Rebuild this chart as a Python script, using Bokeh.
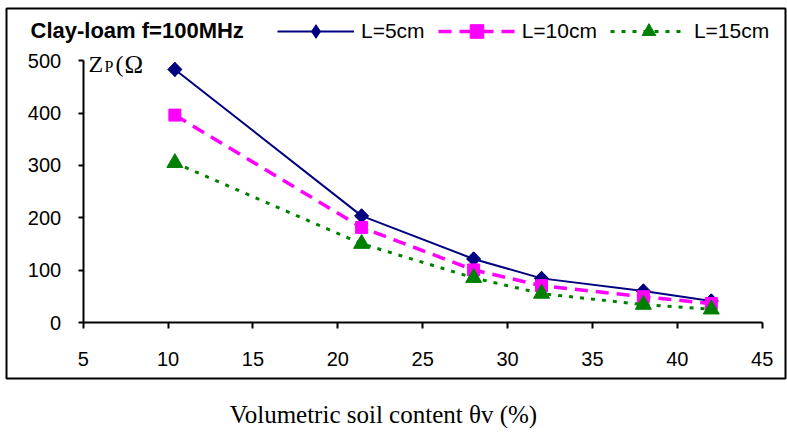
import math
from bokeh.plotting import figure
from bokeh.models import (Range1d, FixedTicker, Legend, LegendItem, Label, BoxAnnotation)
from bokeh.embed import file_html
from bokeh.resources import INLINE

# ---- data ----
theta = [10.4, 21.4, 28.0, 32.0, 38.0, 42.0]
z_l5 = [483, 204, 122, 85, 61, 42]
z_l10 = [396, 182, 101, 71, 50, 37]
z_l15 = [305, 151, 86, 56, 35, 26]
series_names = ["L=5cm", "L=10cm", "L=15cm"]
x_ticks = [5, 10, 15, 20, 25, 30, 35, 40, 45]
y_ticks = [0, 100, 200, 300, 400, 500]
title_text = "Clay-loam f=100MHz"
x_label_text = "Volumetric soil content \u03b8v (%)"

SANS = "Liberation Sans"
SERIF = "Liberation Serif"

# The frame covers the whole canvas; the axes are placed inside it.
p = figure(width=787, height=432, output_backend="svg", toolbar_location=None,
           x_range=Range1d(0.128, 46.49), y_range=Range1d(-208.6, 614.3),
           min_border_left=0, min_border_right=0, min_border_top=0, min_border_bottom=0)
p.outline_line_color = None
p.xgrid.visible = False
p.ygrid.visible = False
p.background_fill_color = "white"
p.border_fill_color = "white"

p.xaxis.ticker = FixedTicker(ticks=x_ticks)
p.yaxis.ticker = FixedTicker(ticks=y_ticks)
p.xaxis.fixed_location = 0
p.yaxis.fixed_location = 5
p.xaxis.bounds = (5, 45)
p.yaxis.bounds = (0, 500)
for ax in (p.xaxis[0], p.yaxis[0]):
    ax.axis_line_width = 2
    ax.axis_line_color = "black"
    ax.major_tick_line_width = 2
    ax.major_tick_line_color = "black"
    ax.major_tick_in = 0
    ax.minor_tick_line_color = None
    ax.major_label_text_font = SANS
    ax.major_label_text_font_size = "20px"
    ax.major_label_text_color = "black"
p.xaxis[0].major_tick_out = 6
p.xaxis[0].major_label_standoff = 23
p.yaxis[0].major_tick_out = 5
p.yaxis[0].major_label_standoff = 17

# outer box of the chart
p.add_layout(BoxAnnotation(left=6, right=785, bottom=54, top=424,
                           left_units="screen", right_units="screen",
                           bottom_units="screen", top_units="screen",
                           fill_alpha=0, line_color="black", line_alpha=1.0,
                           line_width=2))

l1 = p.line(theta, z_l5, line_color="#000080", line_width=2)
# diamond key marker (drawn under the rotated square, used for the legend)
s1_key = p.scatter(theta, z_l5, marker="diamond", size=14,
                   fill_color="#000080", line_color="#000080")
s1 = p.scatter(theta, z_l5, marker="square", angle=math.pi / 4, size=10,
               fill_color="#000080", line_color="#000080")
l2 = p.line(theta, z_l10, line_color="#FF00FF", line_width=3.5, line_dash="13 8")
s2 = p.scatter(theta, z_l10, marker="square", size=12,
               fill_color="#FF00FF", line_color="#FF00FF")
l3 = p.line(theta, z_l15, line_color="#008000", line_width=3, line_dash="4 7")
s3 = p.scatter(theta, z_l15, marker="triangle", size=16,
               fill_color="#008000", line_color="#008000")

legend = Legend(items=[LegendItem(label=series_names[0], renderers=[l1, s1_key]),
                       LegendItem(label=series_names[1], renderers=[l2, s2]),
                       LegendItem(label=series_names[2], renderers=[l3, s3])],
                orientation="horizontal", location=(277, 384),
                glyph_width=77, glyph_height=34, label_standoff=7, spacing=13,
                padding=0, margin=0, border_line_alpha=0, background_fill_alpha=0,
                label_text_font=SANS, label_text_font_size="21px",
                label_text_color="black")
p.add_layout(legend, "center")

p.add_layout(Label(x=30, y=402, x_units="screen", y_units="screen", text=title_text,
                   text_font=SANS, text_font_style="bold", text_font_size="22px",
                   text_align="left", text_baseline="middle", text_color="black"))

p.add_layout(Label(x=383, y=18, x_units="screen", y_units="screen", text=x_label_text,
                   text_font=SERIF, text_font_size="25px",
                   text_align="center", text_baseline="middle", text_color="black"))

# y label  Z_P(Ω  (tops of the text boxes)
for txt, xoff, ytop, size in [("Z", 88, 381.5, "24px"), ("P", 104, 374.4, "16px"),
                              ("(", 115, 381.5, "24px"), ("\u03a9", 124, 381.5, "25px")]:
    p.add_layout(Label(x=xoff, y=ytop, x_units="screen", y_units="screen", text=txt,
                       text_font=SERIF, text_font_size=size,
                       text_align="left", text_baseline="top", text_color="black"))

open("out.html", "w").write(file_html(p, INLINE))
